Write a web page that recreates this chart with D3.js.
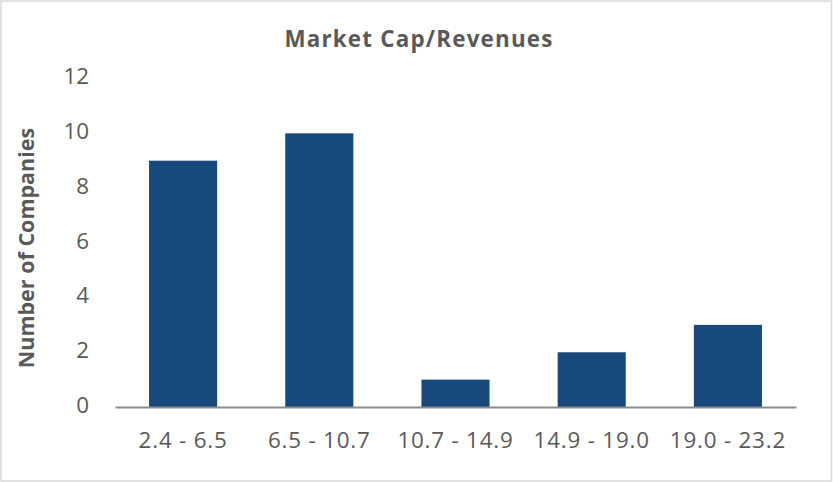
<!DOCTYPE html>
<html>
<head>
<meta charset="utf-8">
<script src="https://cdn.jsdelivr.net/npm/d3@7"></script>
<style>
  html, body { margin: 0; padding: 0; background: #fff; }
  svg { display: block; }
  text { font-family: "Open Sans", "Noto Sans", sans-serif; fill: #595959; }
</style>
</head>
<body>
<svg id="chart" width="833" height="482"></svg>
<script>
// Histogram of market cap / revenues multiples
const categories = ["2.4 - 6.5", "6.5 - 10.7", "10.7 - 14.9", "14.9 - 19.0", "19.0 - 23.2"];
const counts = [9, 10, 1, 2, 3];
const yTicks = [0, 2, 4, 6, 8, 10, 12];
const title = "Market Cap/Revenues";
const yTitle = "Number of Companies";

const W = 833, H = 482;
const plot = { left: 115, right: 796, top: 78.6, bottom: 407 };

const svg = d3.select("#chart");

// outer frame
svg.append("rect")
  .attr("x", 1).attr("y", 1)
  .attr("width", W - 2.5).attr("height", H - 2)
  .attr("fill", "#fff")
  .attr("stroke", "#d9d9d9")
  .attr("stroke-width", 1.5);

const x = d3.scaleBand()
  .domain(categories)
  .range([plot.left, plot.right])
  .paddingInner(0.5)
  .paddingOuter(0.25);

const y = d3.scaleLinear()
  .domain([0, 12])
  .range([plot.bottom, plot.top]);

// bars
svg.append("g")
  .selectAll("rect")
  .data(counts)
  .join("rect")
  .attr("x", (d, i) => x(categories[i]))
  .attr("y", d => y(d))
  .attr("width", x.bandwidth())
  .attr("height", d => y(0) - y(d))
  .attr("fill", "#17497d");

// y axis (labels only)
const yAxis = svg.append("g")
  .attr("transform", `translate(${plot.left},0)`)
  .call(d3.axisLeft(y).tickValues(yTicks).tickSize(0).tickPadding(26));
yAxis.select(".domain").remove();
yAxis.selectAll("text")
  .attr("dy", "0.24em")
  .style("font-family", "'Open Sans', sans-serif")
  .style("font-size", "22.4px")
  .attr("fill", "#595959");

// x axis
const xAxis = svg.append("g")
  .attr("transform", `translate(0,${plot.bottom})`)
  .call(d3.axisBottom(x).tickSize(0).tickPadding(25));
xAxis.select(".domain")
  .attr("stroke", "#8c8c8c")
  .attr("stroke-width", 2);
xAxis.selectAll("text")
  .style("font-family", "'Open Sans', sans-serif")
  .style("font-size", "22.4px")
  .style("letter-spacing", "0.8px")
  .attr("fill", "#595959");

// chart title
svg.append("text")
  .attr("x", 419)
  .attr("y", 47)
  .attr("text-anchor", "middle")
  .style("font-size", "22.4px")
  .style("font-weight", "bold")
  .style("letter-spacing", "1.2px")
  .text(title);

// y axis title
svg.append("text")
  .attr("transform", `translate(34,248) rotate(-90)`)
  .attr("text-anchor", "middle")
  .style("font-size", "21.5px")
  .style("font-weight", "bold")
  .text(yTitle);
</script>
</body>
</html>
